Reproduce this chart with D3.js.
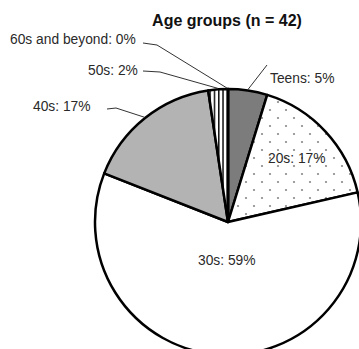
<!DOCTYPE html>
<html>
<head>
<meta charset="utf-8">
<script src="https://cdn.jsdelivr.net/npm/d3@7"></script>
<style>
  body { margin: 0; background: #fff; }
  text { font-family: "Liberation Sans", Arial, sans-serif; }
</style>
</head>
<body>
<script>
// data (n = 42)
const categories = ['Teens', '20s', '30s', '40s', '50s', '60s and beyond'];
const counts = [2, 7, 25, 7, 1, 0];
const percents = [5, 17, 59, 17, 2, 0];
const title = 'Age groups (n = 42)';

const width = 359, height = 349;
const cx = 228, cy = 222, r = 133;

const svg = d3.select('body').append('svg')
  .attr('width', width)
  .attr('height', height);

const defs = svg.append('defs');

// dotted fill
const dots = defs.append('pattern')
  .attr('id', 'dots')
  .attr('patternUnits', 'userSpaceOnUse')
  .attr('width', 16).attr('height', 16)
  .attr('x', cx + 2).attr('y', cy - 2);
dots.append('rect').attr('width', 16).attr('height', 16).attr('fill', '#fff');
dots.append('circle').attr('cx', 4).attr('cy', 4).attr('r', 1.1).attr('fill', '#888');
dots.append('circle').attr('cx', 12).attr('cy', 12).attr('r', 1.1).attr('fill', '#888');

// vertical stripes
const stripes = defs.append('pattern')
  .attr('id', 'stripes')
  .attr('patternUnits', 'userSpaceOnUse')
  .attr('width', 4.3).attr('height', 10)
  .attr('x', cx - 1.5).attr('y', 0);
stripes.append('rect').attr('width', 4.3).attr('height', 10).attr('fill', '#fff');
stripes.append('rect').attr('x', 0).attr('width', 1.5).attr('height', 10).attr('fill', '#111');

const fills = ['#7c7c7c', 'url(#dots)', '#fff', '#b3b3b3', 'url(#stripes)', 'url(#stripes)'];

const data = categories.map((c, i) => ({ cat: c, count: counts[i], pct: percents[i], fill: fills[i] }));

const pie = d3.pie().sort(null).value(d => d.count);
const arcs = pie(data);
const arc = d3.arc().innerRadius(0).outerRadius(r);

const g = svg.append('g').attr('transform', 'translate(' + cx + ',' + cy + ')');

g.selectAll('path.slice')
  .data(arcs)
  .enter()
  .append('path')
  .attr('class', 'slice')
  .attr('d', arc)
  .attr('fill', d => d.data.fill)
  .attr('stroke', '#000')
  .attr('stroke-width', 2.5)
  .attr('stroke-linejoin', 'round');

// title
svg.append('text')
  .attr('x', 227).attr('y', 26)
  .attr('text-anchor', 'middle')
  .attr('font-size', 16)
  .attr('font-weight', 'bold')
  .attr('fill', '#111')
  .text(title);

// label layout: text anchor position, leader start points, outer-arc angle nudge
const labelLayout = {
  'Teens': { x: 270, y: 83, anchor: 'start', lead: [[267, 65]], nudge: 0 },
  '20s': { x: 268, y: 163, anchor: 'start' },
  '30s': { x: 198, y: 265, anchor: 'start' },
  '40s': { x: 33, y: 111, anchor: 'start', lead: [[107, 109], [116, 108]], nudge: 0 },
  '50s': { x: 88, y: 75, anchor: 'start', lead: [[143, 71], [160, 72]], nudge: 0 },
  '60s and beyond': { x: 10, y: 44, anchor: 'start', lead: [[143, 43], [157, 45]], nudge: -0.008 }
};

const labels = svg.append('g');
arcs.forEach(a => {
  const L = labelLayout[a.data.cat];
  labels.append('text')
    .attr('x', L.x).attr('y', L.y)
    .attr('text-anchor', L.anchor)
    .attr('font-size', 13.8)
    .attr('fill', '#2a2a2a')
    .text(a.data.cat + ': ' + a.data.pct + '%');
  if (L.lead) {
    const mid = (a.startAngle + a.endAngle) / 2 + L.nudge;
    const end = [cx + Math.sin(mid) * (r + 1), cy - Math.cos(mid) * (r + 1)];
    labels.append('path')
      .attr('d', d3.line()(L.lead.concat([end])))
      .attr('fill', 'none')
      .attr('stroke', '#333')
      .attr('stroke-width', 1);
  }
});
</script>
</body>
</html>
